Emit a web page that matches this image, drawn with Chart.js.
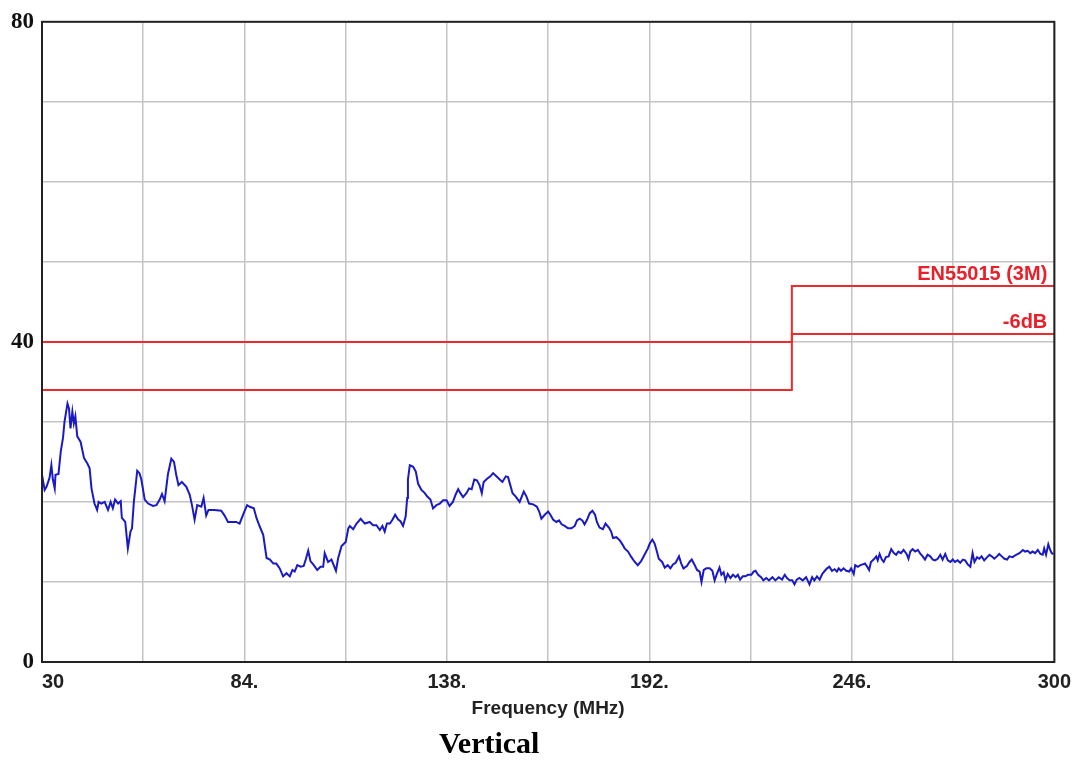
<!DOCTYPE html>
<html>
<head>
<meta charset="utf-8">
<title>Vertical</title>
<script src="https://cdn.jsdelivr.net/npm/chart.js@4.4.1/dist/chart.umd.min.js"></script>
<style>
  html, body { margin: 0; padding: 0; background: #fff; }
  #wrap { width: 1079px; height: 760px; }
</style>
</head>
<body>
<div id="wrap"><canvas id="emcChart" width="1079" height="760"></canvas></div>
<script>
const traceMHz = [
  30.0, 30.7, 31.2, 32.0, 32.5, 32.9, 33.4, 33.6, 34.4, 35.0, 35.6, 36.0, 36.8, 37.2, 37.6, 38.1, 38.5, 38.9, 39.4, 40.3,
  41.2, 42.1, 42.7, 43.2, 44.0, 44.7, 45.1, 45.8, 46.7, 47.6, 48.3, 48.9, 49.5, 50.3, 51.0, 51.3, 52.2, 52.9, 53.6, 54.0,
  54.5, 55.4, 56.0, 56.5, 57.4, 58.3, 59.6, 60.5, 61.4, 62.0, 62.7, 63.6, 64.5, 65.2, 65.8, 66.4, 67.3, 68.5, 69.4, 70.0,
  70.7, 71.4, 72.5, 73.1, 73.8, 74.4, 76.0, 77.8, 78.7, 79.6, 81.8, 82.7, 83.8, 84.7, 85.4, 86.5, 87.2, 88.1, 89.0, 89.9,
  90.8, 91.7, 92.5, 93.4, 94.3, 95.2, 96.1, 96.8, 97.4, 98.1, 99.0, 99.8, 100.4, 101.0, 101.6, 102.5, 103.4, 104.3, 105.0, 105.4,
  106.3, 107.2, 107.8, 108.4, 109.0, 109.9, 111.0, 111.7, 112.1, 113.0, 113.9, 115.0, 116.1, 117.4, 118.3, 119.2, 120.1, 120.8, 121.4, 122.0,
  122.8, 123.5, 124.2, 125.0, 125.6, 126.3, 127.0, 127.4, 127.6, 128.1, 129.0, 129.7, 130.3, 131.2, 132.1, 132.7, 133.6, 134.3, 135.2, 136.1,
  137.0, 137.9, 138.7, 139.6, 140.3, 141.0, 141.6, 142.3, 143.2, 143.9, 144.6, 145.3, 146.0, 146.7, 147.3, 147.8, 148.7, 149.6, 150.3, 151.2,
  152.1, 152.8, 153.7, 154.3, 154.9, 155.5, 156.3, 157.4, 158.5, 159.2, 159.9, 161.0, 162.0, 162.6, 163.2, 164.1, 165.0, 165.6, 166.3, 167.2,
  167.9, 168.6, 169.4, 170.3, 171.2, 172.1, 172.7, 173.4, 174.1, 174.7, 175.4, 176.1, 176.8, 177.5, 178.0, 178.7, 179.6, 180.3, 181.2, 181.8,
  182.3, 183.2, 184.1, 184.8, 185.4, 186.3, 187.2, 188.1, 188.9, 189.8, 190.7, 191.6, 192.1, 192.8, 193.4, 194.0, 194.5, 195.4, 196.1, 196.9,
  197.6, 198.3, 199.0, 199.9, 200.5, 201.1, 202.0, 202.7, 203.3, 204.1, 204.7, 205.4, 205.9, 206.5, 207.2, 208.1, 208.8, 209.4, 210.0, 210.7,
  211.2, 211.8, 212.3, 212.9, 213.6, 214.3, 215.0, 215.6, 216.2, 216.9, 217.6, 218.3, 219.2, 219.8, 220.3, 221.0, 221.8, 222.4, 223.2, 223.9,
  224.8, 225.6, 226.5, 227.4, 228.1, 228.7, 229.4, 230.1, 230.7, 231.3, 232.0, 232.9, 233.8, 234.7, 235.4, 236.0, 236.7, 237.4, 238.1, 238.8,
  239.4, 240.0, 240.7, 241.4, 242.0, 242.5, 243.1, 243.8, 244.5, 245.3, 245.8, 246.5, 246.9, 247.6, 248.3, 248.9, 249.5, 250.1, 250.6, 251.1,
  251.8, 252.5, 252.9, 253.4, 254.0, 254.5, 255.1, 255.8, 256.5, 257.2, 257.8, 258.4, 259.1, 259.8, 260.6, 261.1, 261.6, 262.2, 262.9, 263.6,
  264.3, 264.9, 265.5, 266.2, 266.9, 267.6, 268.2, 268.9, 269.6, 270.2, 270.9, 271.6, 272.3, 272.9, 273.5, 274.2, 274.9, 275.6, 276.2, 276.9,
  277.6, 278.2, 278.7, 279.4, 280.0, 280.6, 281.3, 282.1, 282.7, 283.3, 284.0, 284.7, 285.3, 286.0, 286.7, 287.4, 288.0, 288.9, 289.8, 290.7,
  291.6, 292.2, 292.9, 293.6, 294.2, 294.9, 295.6, 296.3, 296.9, 297.3, 297.8, 298.4, 298.9, 299.3, 299.8
];
const traceDb = [
  23.4, 21.5, 21.9, 23.0, 24.6, 22.8, 21.7, 23.4, 23.5, 26.3, 28.0, 30.0, 32.3, 31.7, 29.2, 31.3, 29.8, 30.7, 28.2, 27.5,
  25.5, 24.8, 24.2, 21.7, 19.8, 19.0, 20.0, 19.8, 20.0, 19.0, 20.0, 19.2, 20.3, 19.8, 20.1, 18.0, 17.5, 14.2, 16.3, 16.7,
  20.0, 23.9, 23.6, 22.8, 20.3, 19.8, 19.5, 19.6, 20.3, 21.0, 20.1, 23.5, 25.4, 25.0, 23.4, 22.1, 22.5, 21.9, 20.9, 19.6,
  17.8, 19.6, 19.4, 20.5, 18.3, 19.0, 19.0, 18.9, 18.3, 17.5, 17.5, 17.3, 18.6, 19.6, 19.4, 19.2, 18.0, 16.9, 15.9, 13.0,
  12.8, 12.3, 12.3, 11.7, 10.7, 11.1, 10.7, 11.5, 11.3, 12.1, 11.9, 12.0, 12.9, 13.9, 12.6, 12.1, 11.5, 11.9, 11.9, 13.6,
  12.5, 12.8, 12.1, 11.4, 13.0, 14.5, 15.0, 16.7, 17.0, 16.6, 17.3, 17.9, 17.3, 17.5, 17.1, 17.1, 16.5, 17.0, 16.3, 17.3,
  17.3, 17.8, 18.4, 17.8, 17.6, 17.0, 18.2, 20.5, 22.8, 24.6, 24.4, 23.8, 22.3, 21.5, 21.1, 20.7, 20.3, 19.2, 19.6, 19.8,
  20.2, 20.2, 19.5, 20.0, 20.9, 21.6, 21.1, 20.6, 21.1, 21.7, 21.6, 22.8, 22.7, 22.1, 21.1, 22.5, 22.9, 23.2, 23.6, 23.2,
  22.8, 22.5, 23.2, 23.1, 22.1, 21.1, 20.7, 20.0, 21.3, 20.7, 19.8, 19.7, 19.4, 18.8, 17.9, 18.4, 18.8, 18.4, 17.8, 17.5,
  17.7, 17.2, 17.0, 16.7, 16.7, 17.0, 17.7, 17.9, 17.7, 17.2, 17.8, 18.6, 18.9, 18.4, 17.5, 16.8, 16.6, 17.3, 16.8, 16.3,
  15.5, 15.6, 15.2, 14.7, 14.2, 13.8, 13.1, 12.5, 12.1, 12.6, 13.4, 14.2, 14.8, 15.3, 14.8, 13.8, 12.9, 12.5, 11.8, 12.1,
  11.7, 12.2, 12.4, 13.2, 12.3, 11.7, 12.0, 12.5, 12.8, 12.1, 11.5, 11.3, 10.0, 11.5, 11.7, 11.7, 11.4, 10.2, 11.0, 11.8,
  10.9, 11.2, 10.2, 11.0, 10.5, 10.9, 10.6, 10.9, 10.3, 10.7, 10.7, 10.9, 10.9, 11.3, 11.4, 10.9, 10.6, 10.2, 10.5, 10.2,
  10.6, 10.2, 10.6, 10.3, 10.9, 10.5, 10.2, 10.2, 9.7, 10.3, 10.5, 10.2, 10.6, 9.7, 10.6, 10.2, 10.7, 10.3, 11.0, 11.4,
  11.7, 11.9, 11.4, 11.6, 11.3, 11.7, 11.4, 11.7, 11.4, 11.3, 11.7, 11.0, 12.1, 11.9, 12.1, 12.2, 12.3, 11.9, 11.5, 12.5,
  12.8, 13.2, 12.7, 13.5, 12.8, 12.5, 13.1, 13.2, 14.1, 13.6, 13.4, 13.8, 13.6, 14.0, 13.5, 12.9, 13.8, 14.1, 13.8, 14.0,
  13.5, 13.2, 12.8, 13.4, 13.2, 12.8, 12.7, 12.9, 13.4, 12.8, 13.5, 12.7, 12.5, 12.8, 12.5, 12.7, 12.4, 12.8, 12.7, 12.2,
  11.9, 13.6, 12.5, 13.1, 12.9, 13.2, 12.7, 13.1, 13.4, 13.2, 12.9, 13.2, 13.5, 13.2, 12.9, 12.8, 13.2, 13.1, 13.4, 13.6,
  14.0, 13.8, 13.9, 13.6, 13.8, 13.6, 14.0, 13.5, 13.4, 14.2, 13.4, 14.7, 14.0, 13.6, 13.5
];

// EN55015 3 m limit and the -6 dB margin line
const limitMHz = [30, 230, 230, 300];
const limitDb = [40, 40, 47, 47];
const marginDb = [34, 34, 41, 41];
const limitLabels = ['EN55015 (3M)', '-6dB'];

// axes
const xTicks = [30, 57, 84, 111, 138, 165, 192, 219, 246, 273, 300];
const xLabelled = [30, 84, 138, 192, 246, 300];
const yLabelled = [0, 40, 80];
const xTitle = 'Frequency (MHz)';
const caption = 'Vertical';

const toPoints = (xs, ys) => xs.map((x, i) => ({ x: x, y: ys[i] }));

// box around the plot area
const framePlugin = {
  id: 'frame',
  afterDatasetsDraw(chart) {
    const a = chart.chartArea;
    const ctx = chart.ctx;
    ctx.save();
    ctx.strokeStyle = '#222';
    ctx.lineWidth = 2;
    ctx.strokeRect(a.left, a.top, a.right - a.left, a.bottom - a.top);
    ctx.restore();
  }
};

// limit line names + caption under the chart
const textPlugin = {
  id: 'texts',
  afterDraw(chart) {
    const ctx = chart.ctx;
    const xs = chart.scales.x;
    const ys = chart.scales.y;
    const xr = xs.getPixelForValue(300) - 7;
    ctx.save();
    ctx.fillStyle = '#e8202a';
    ctx.font = 'bold 20px "Liberation Sans", Arial, sans-serif';
    ctx.textAlign = 'right';
    ctx.textBaseline = 'alphabetic';
    ctx.fillText(limitLabels[0], xr, ys.getPixelForValue(limitDb[3]) - 6);
    ctx.fillText(limitLabels[1], xr, ys.getPixelForValue(marginDb[3]) - 6);

    ctx.fillStyle = '#000';
    ctx.font = 'bold 30px "Liberation Serif", "Times New Roman", serif';
    ctx.textAlign = 'center';
    ctx.textBaseline = 'middle';
    const a = chart.chartArea;
    ctx.fillText(caption, (a.left + a.right) / 2 - 59, 745);
    ctx.restore();
  }
};

const ctx = document.getElementById('emcChart').getContext('2d');
const emcChart = new Chart(ctx, {
  type: 'line',
  data: {
    datasets: [
      {
        label: 'Trace',
        data: toPoints(traceMHz, traceDb),
        borderColor: '#1a1ac4',
        borderWidth: 2,
        pointRadius: 0,
        tension: 0,
      },
      {
        label: limitLabels[0],
        data: toPoints(limitMHz, limitDb),
        borderColor: '#ee2a2a',
        borderWidth: 2,
        pointRadius: 0,
        tension: 0,
      },
      {
        label: limitLabels[1],
        data: toPoints(limitMHz, marginDb),
        borderColor: '#ee2a2a',
        borderWidth: 2,
        pointRadius: 0,
        tension: 0,
      },
    ],
  },
  options: {
    responsive: false,
    animation: false,
    layout: { padding: { top: 21, right: 24, left: 0, bottom: 40 } },
    plugins: {
      legend: { display: false },
      tooltip: { enabled: false },
    },
    scales: {
      x: {
        type: 'linear',
        min: 30,
        max: 300,
        afterBuildTicks: (s) => {
          s.ticks = xTicks.map((v) => ({ value: v }));
        },
        afterFit: (s) => {
          s.height = 58;
        },
        grid: { color: '#c4c4c4', lineWidth: 1.5, drawTicks: false },
        border: { display: false },
        ticks: {
          autoSkip: false,
          maxRotation: 0,
          padding: 8,
          color: '#222',
          font: { family: '"Liberation Sans", Arial, sans-serif', size: 20, weight: 'bold' },
          callback: (v) => {
            if (!xLabelled.includes(v)) return '';
            if (v === 30) return '    30';
            if (v === 300) return '300';
            return v + '.';
          },
        },
        title: {
          display: true,
          text: xTitle,
          color: '#222',
          padding: 0,
          font: { family: '"Liberation Sans", Arial, sans-serif', size: 19, weight: 'bold' },
        },
      },
      y: {
        min: 0,
        max: 80,
        afterFit: (s) => {
          s.width = 42;
        },
        grid: { color: '#c4c4c4', lineWidth: 1.5, drawTicks: false },
        border: { display: false },
        ticks: {
          stepSize: 10,
          padding: 8,
          color: '#111',
          font: { family: '"Liberation Serif", "Times New Roman", serif', size: 23, weight: 'bold' },
          callback: (v) => (yLabelled.includes(v) ? String(v) : ''),
        },
      },
    },
  },
  plugins: [framePlugin, textPlugin],
});
</script>
</body>
</html>
